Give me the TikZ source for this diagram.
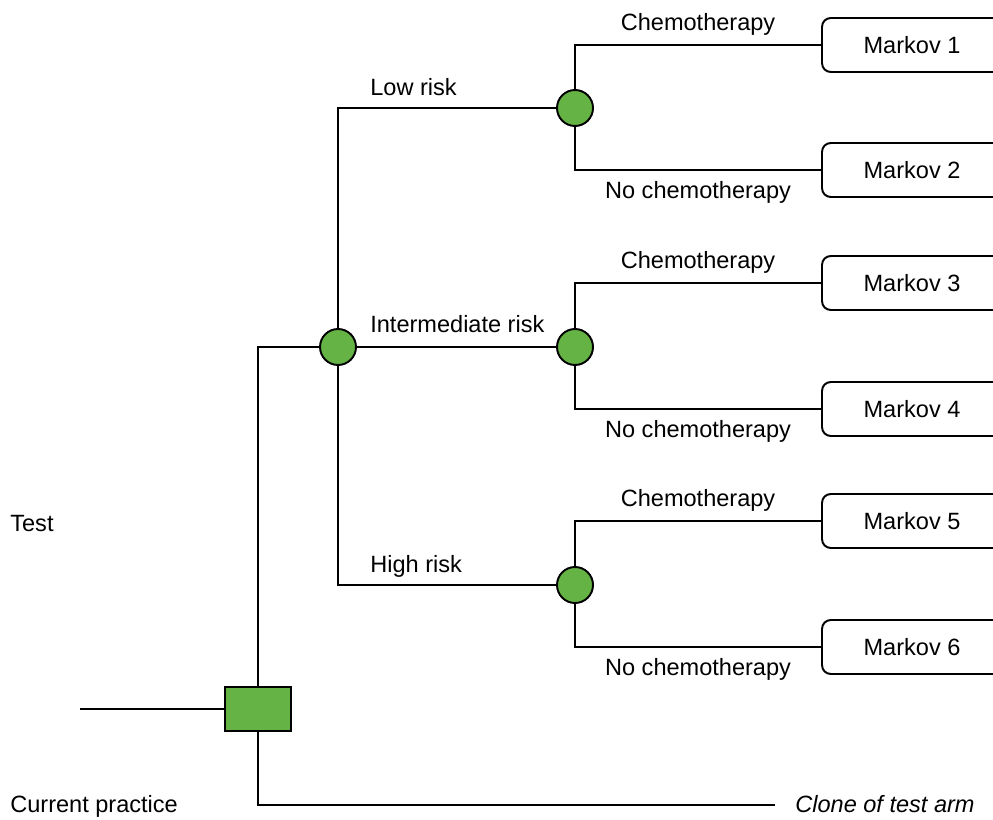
\documentclass[tikz,border=0pt]{standalone}
\usepackage{fontspec}
\setmainfont{Liberation Sans}
\usetikzlibrary{positioning,calc}
\definecolor{treegreen}{RGB}{102,179,69}

\begin{document}
\begin{tikzpicture}[x=0.02cm, y=-0.02cm,
    branch/.style={line width=1.1pt},
    chance/.style={circle, draw=black, line width=1.1pt, fill=treegreen, minimum size=0.72cm, inner sep=0pt},
    decision/.style={rectangle, draw=black, line width=1.1pt, fill=treegreen, minimum width=1.32cm, minimum height=0.88cm, inner sep=0pt},
    markov/.style={rectangle, rounded corners=5pt, draw=black, line width=1.1pt, minimum width=3.6cm, minimum height=1.08cm, font=\fontsize{13.4}{15}\selectfont},
    lbl/.style={font=\fontsize{13.4}{15}\selectfont, inner sep=0pt},
]
    \useasboundingbox (0,0) rectangle (993,820);
    \clip (0,0) rectangle (993,820);

    % Decision node and arms
    \node[decision] (dec) at (258,709) {};
    \coordinate (root) at (80,709);
    \draw[branch] (root) -- (dec.west);
    \node[chance] (risk) at (338,347) {};
    \draw[branch] (dec.north) |- (risk.west);
    \coordinate (clone) at (775,805);
    \draw[branch] (dec.south) |- (clone);

    \node[lbl, anchor=base west] (test) at (10,531) {Test};
    \node[lbl, anchor=base west] (current) at (10,812) {Current practice};
    \node[lbl, anchor=base west] (clonelbl) at (795,812) {\itshape Clone of test arm};

    % Risk groups
    \node[chance] (low) at (575,108) {};
    \node[chance] (mid) at (575,347) {};
    \node[chance] (high) at (575,585) {};
    \draw[branch] (risk.north) |- (low.west);
    \draw[branch] (risk.east) -- (mid.west);
    \draw[branch] (risk.south) |- (high.west);

    \node[lbl, anchor=base west] (lowlbl) at (370,96) {Low risk};
    \node[lbl, anchor=base west] (midlbl) at (370,333) {Intermediate risk};
    \node[lbl, anchor=base west] (highlbl) at (370,572) {High risk};

    % Markov models
    \node[markov] (m1) at (912,45) {Markov 1};
    \node[markov] (m2) at (912,170) {Markov 2};
    \node[markov] (m3) at (912,283) {Markov 3};
    \node[markov] (m4) at (912,409) {Markov 4};
    \node[markov] (m5) at (912,521) {Markov 5};
    \node[markov] (m6) at (912,647) {Markov 6};

    % Treatment branches
    \draw[branch] (low.north) |- node[lbl, pos=0.75, above=5pt] {Chemotherapy} (m1.west);
    \draw[branch] (low.south) |- node[lbl, pos=0.75, below=6pt] {No chemotherapy} (m2.west);
    \draw[branch] (mid.north) |- node[lbl, pos=0.75, above=5pt] {Chemotherapy} (m3.west);
    \draw[branch] (mid.south) |- node[lbl, pos=0.75, below=6pt] {No chemotherapy} (m4.west);
    \draw[branch] (high.north) |- node[lbl, pos=0.75, above=5pt] {Chemotherapy} (m5.west);
    \draw[branch] (high.south) |- node[lbl, pos=0.75, below=6pt] {No chemotherapy} (m6.west);
\end{tikzpicture}
\end{document}
